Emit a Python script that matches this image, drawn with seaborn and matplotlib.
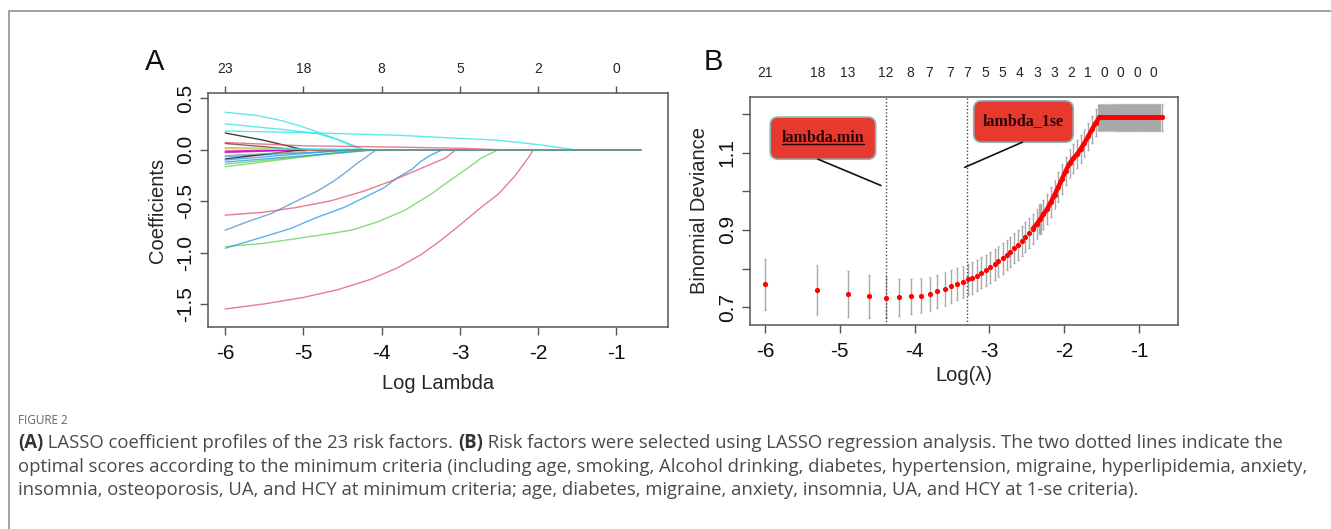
import numpy as np
import pandas as pd
import matplotlib
matplotlib.use("Agg")
import matplotlib.pyplot as plt
import seaborn as sns
from matplotlib.patches import FancyBboxPatch
from matplotlib.lines import Line2D

# ============================================================
# DATA - panel A: LASSO coefficient paths (log lambda -> coefficient)
# ============================================================
PINK, GREEN, BLUE, CYAN = "#DF536B", "#61D04F", "#2297E6", "#28E2E5"
BLACK, MAGENTA, YELLOW, GREY = "#000000", "#CD0BBC", "#F5C710", "#9E9E9E"

path_colors = [PINK, GREEN, BLUE, PINK, "#4a8fc9",
               CYAN, CYAN, CYAN, BLACK, PINK, "#6b2a2a",
               CYAN, MAGENTA, MAGENTA, MAGENTA, BLUE, GREEN,
               GREEN, BLACK, BLUE, GREY, YELLOW, BLUE]

path_loglam = [
    [-6.0, -5.51, -5.0, -4.57, -4.14, -3.80, -3.50, -3.24, -2.98, -2.73, -2.51, -2.30, -2.13, -2.06, -0.69],
    [-6.0, -5.51, -5.08, -4.65, -4.39, -4.05, -3.71, -3.37, -3.11, -2.90, -2.73, -2.51, -0.69],
    [-6.0, -5.51, -5.17, -4.82, -4.48, -4.22, -3.97, -3.80, -3.62, -3.50, -3.37, -3.22, -0.69],
    [-6.0, -5.51, -5.08, -4.65, -4.22, -3.88, -3.58, -3.37, -3.19, -3.05, -0.69],
    [-6.0, -5.72, -5.42, -5.12, -4.82, -4.61, -4.44, -4.31, -4.22, -4.07, -0.69],
    [-6.0, -5.59, -5.29, -5.04, -4.82, -4.48, -4.22, -0.69],
    [-6.0, -5.29, -4.82, -4.57, -4.27, -0.69],
    [-6.0, -5.0, -3.80, -2.51, -1.95, -1.53, -0.69],
    [-6.0, -5.51, -5.0, -0.69],
    [-6.0, -5.0, -3.80, -2.94, -2.51, -0.69],
    [-6.0, -5.51, -5.08, -0.69],
    [-6.0, -4.07, -0.69],
    [-6.0, -5.10, -0.69],
    [-6.0, -5.00, -0.69],
    [-6.0, -5.30, -4.95, -0.69],
    [-6.0, -4.22, -0.69],
    [-6.0, -5.0, -4.30, -0.69],
    [-6.0, -4.10, -0.69],
    [-6.0, -5.00, -0.69],
    [-6.0, -4.05, -0.69],
    [-6.0, -5.0, -4.90, -0.69],
    [-6.0, -5.00, -0.69],
    [-6.0, -4.40, -0.69],
]
path_coef = [
    [-1.545, -1.497, -1.433, -1.36, -1.258, -1.147, -1.02, -0.877, -0.718, -0.56, -0.432, -0.257, -0.083, 0.0, 0.0],
    [-0.940, -0.909, -0.861, -0.813, -0.781, -0.70, -0.59, -0.431, -0.289, -0.178, -0.083, 0.0, 0.0],
    [-0.956, -0.845, -0.766, -0.654, -0.56, -0.463, -0.369, -0.272, -0.194, -0.114, -0.051, 0.0, 0.0],
    [-0.635, -0.607, -0.559, -0.496, -0.400, -0.304, -0.209, -0.14, -0.083, 0.0, 0.0],
    [-0.781, -0.70, -0.622, -0.51, -0.400, -0.304, -0.209, -0.13, -0.083, 0.0, 0.0],
    [0.363, 0.331, 0.284, 0.229, 0.172, 0.076, 0.0, 0.0],
    [0.251, 0.198, 0.156, 0.10, 0.0, 0.0],
    [0.181, 0.166, 0.140, 0.092, 0.045, 0.0, 0.0],
    [0.162, 0.092, 0.0, 0.0],
    [0.07, 0.038, 0.025, 0.013, 0.0, 0.0],
    [0.06, 0.03, 0.0, 0.0],
    [0.02, 0.0, 0.0],
    [-0.013, 0.0, 0.0],
    [-0.028, 0.0, 0.0],
    [-0.02, -0.008, 0.0, 0.0],
    [-0.067, 0.0, 0.0],
    [-0.165, -0.07, 0.0, 0.0],
    [-0.14, 0.0, 0.0],
    [-0.09, 0.0, 0.0],
    [-0.12, 0.0, 0.0],
    [-0.057, -0.02, 0.0, 0.0],
    [0.01, 0.0, 0.0],
    [-0.10, 0.0, 0.0],
]

a_nz_pos = [-6, -5, -4, -3, -2, -1]
a_nz_labels = ["23", "18", "8", "5", "2", "0"]

# ============================================================
# DATA - panel B: cross-validated binomial deviance
# ============================================================
cv_loglam = [-6.00, -5.31, -4.89, -4.61, -4.38, -4.21, -4.05, -3.92, -3.80, -3.70,
             -3.60, -3.51, -3.43, -3.36, -3.29, -3.23, -3.17, -3.11, -3.05, -2.99,
             -2.93, -2.88, -2.82, -2.77, -2.72, -2.67, -2.62, -2.57, -2.52, -2.47,
             -2.42, -2.37, -2.32, -2.28, -2.23, -2.18, -2.13, -2.08, -2.03, -1.98,
             -1.93, -1.88, -1.83, -1.78, -1.73, -1.68, -1.63, -1.58, -1.53, -1.49,
             -1.45, -1.41, -1.37, -1.33, -1.29, -1.25, -1.21, -1.17, -1.13, -1.09,
             -1.05, -1.01, -0.97, -0.93, -0.89, -0.85, -0.81, -0.77, -0.73, -0.69]
cv_mean = [0.759, 0.744, 0.734, 0.728, 0.725, 0.726, 0.728, 0.730, 0.735, 0.741,
           0.747, 0.754, 0.760, 0.766, 0.772, 0.775, 0.782, 0.789, 0.796, 0.803,
           0.811, 0.819, 0.827, 0.835, 0.844, 0.853, 0.862, 0.871, 0.881, 0.892,
           0.903, 0.915, 0.928, 0.940, 0.954, 0.972, 0.991, 1.011, 1.032, 1.053,
           1.072, 1.085, 1.096, 1.110, 1.125, 1.142, 1.160, 1.177, 1.191, 1.191,
           1.191, 1.191, 1.191, 1.191, 1.191, 1.191, 1.191, 1.191, 1.191, 1.191,
           1.191, 1.191, 1.191, 1.191, 1.191, 1.191, 1.191, 1.191, 1.191, 1.191]
cv_se = [0.067, 0.064, 0.059, 0.056, 0.052, 0.048, 0.046, 0.045, 0.044, 0.043,
         0.043, 0.042, 0.042, 0.041, 0.041, 0.041, 0.041, 0.040, 0.040, 0.040,
         0.040, 0.040, 0.040, 0.039, 0.039, 0.039, 0.039, 0.039, 0.039, 0.039,
         0.039, 0.039, 0.039, 0.038, 0.038, 0.038, 0.038, 0.038, 0.038, 0.037,
         0.037, 0.037, 0.037, 0.036, 0.036, 0.036, 0.035, 0.035, 0.034, 0.034,
         0.034, 0.034, 0.034, 0.034, 0.034, 0.034, 0.034, 0.034, 0.034, 0.034,
         0.034, 0.034, 0.034, 0.034, 0.034, 0.034, 0.034, 0.034, 0.034, 0.034]

b_nz_pos = [-6.0, -5.30, -4.895, -4.383, -4.062, -3.804, -3.519, -3.296, -3.055, -2.823,
            -2.601, -2.360, -2.128, -1.905, -1.682, -1.468, -1.245, -1.022, -0.808]
b_nz_labels = ["21", "18", "13", "12", "8", "7", "7", "7", "5", "5",
               "4", "3", "3", "2", "1", "0", "0", "0", "0"]

lambda_min = -4.38
lambda_1se = -3.295

caption_lines = [
    [("(A)", True), (" LASSO coefficient profiles of the 23 risk factors. ", False),
     ("(B)", True), (" Risk factors were selected using LASSO regression analysis. "
                     "The two dotted lines indicate the", False)],
    [("optimal scores according to the minimum criteria (including age, smoking, Alcohol "
      "drinking, diabetes, hypertension, migraine, hyperlipidemia, anxiety,", False)],
    [("insomnia, osteoporosis, UA, and HCY at minimum criteria; age, diabetes, migraine, "
      "anxiety, insomnia, UA, and HCY at 1-se criteria).", False)],
]

# ============================================================
# FIGURE
# ============================================================
sns.set_theme(style="white")
plt.rcParams["font.family"] = ["Liberation Sans", "DejaVu Sans"]

W, H = 1331, 529
fig = plt.figure(figsize=(W / 100, H / 100), dpi=100)
fig.patch.set_facecolor("white")


def px_axes(left, top, right, bottom):
    return fig.add_axes([left / W, 1 - bottom / H, (right - left) / W, (bottom - top) / H])


def style_box(ax):
    for sp in ax.spines.values():
        sp.set_visible(True)
        sp.set_color("#555555")
        sp.set_linewidth(1.1)
    ax.tick_params(axis="both", direction="out", length=6, width=1.0, color="#555555",
                   labelsize=15, left=True, bottom=True, labelcolor="#111111")
    ax.tick_params(axis="x", pad=6)


# ---------------- Panel A ----------------
axA = px_axes(208, 93, 668, 327)
rows = []
for i, (xs, ys) in enumerate(zip(path_loglam, path_coef)):
    for x, y in zip(xs, ys):
        rows.append({"path": f"p{i}", "loglam": x, "coef": y})
dfA = pd.DataFrame(rows)
pal = {f"p{i}": c for i, c in enumerate(path_colors)}
sns.lineplot(data=dfA, x="loglam", y="coef", hue="path", palette=pal, estimator=None,
             sort=False, legend=False, linewidth=1.0, alpha=0.75, ax=axA)
axA.set_xlim(-6.22, -0.34)
axA.set_ylim(-1.72, 0.55)
axA.set_xticks([-6, -5, -4, -3, -2, -1])
axA.set_xticklabels(["-6", "-5", "-4", "-3", "-2", "-1"])
axA.set_yticks([-1.5, -1.0, -0.5, 0.0, 0.5])
axA.set_yticklabels(["-1.5", "-1.0", "-0.5", "0.0", "0.5"], rotation=90, va="center")
style_box(axA)
axA.set_xlabel("Log Lambda", fontsize=14.5, labelpad=8)
axA.set_ylabel("Coefficients", fontsize=14.5, labelpad=6)
secA = axA.secondary_xaxis("top")
secA.set_xticks(a_nz_pos)
secA.set_xticklabels(a_nz_labels)
secA.tick_params(direction="out", length=5, width=1.0, color="#555555", labelsize=10, pad=7)
secA.spines["top"].set_visible(False)

# ---------------- Panel B ----------------
axB = px_axes(750, 97, 1178, 325)
dfB = pd.DataFrame({"loglam": cv_loglam, "dev": cv_mean, "se": cv_se})
gap = np.abs(np.diff(dfB["loglam"].to_numpy(), append=0.0))
bar_lw = np.where(gap < 0.045, 2.4, 1.0)
axB.vlines(dfB["loglam"], dfB["dev"] - dfB["se"], dfB["dev"] + dfB["se"],
           color="#a9a9a9", linewidth=bar_lw, zorder=1)
cap = 0.012
axB.hlines(dfB["dev"] + dfB["se"], dfB["loglam"] - cap, dfB["loglam"] + cap,
           color="#a9a9a9", linewidth=1.0, zorder=1)
axB.hlines(dfB["dev"] - dfB["se"], dfB["loglam"] - cap, dfB["loglam"] + cap,
           color="#a9a9a9", linewidth=1.0, zorder=1)
# dots merge into a thick line where lambdas are dense
dense = dfB[dfB["loglam"] >= -2.45]
sns.lineplot(data=dense, x="loglam", y="dev", color="#ff0000", linewidth=3.2,
             estimator=None, sort=True, zorder=3, ax=axB)
sns.scatterplot(data=dfB, x="loglam", y="dev", color="#ff0000", s=14, linewidth=0,
                zorder=3, ax=axB)
axB.axvline(lambda_min, color="#444444", linestyle=(0, (1, 1.5)), linewidth=1.0, zorder=2)
axB.axvline(lambda_1se, color="#444444", linestyle=(0, (1, 1.5)), linewidth=1.0, zorder=2)
axB.set_xlim(-6.2, -0.48)
axB.set_ylim(0.654, 1.244)
axB.set_xticks([-6, -5, -4, -3, -2, -1])
axB.set_xticklabels(["-6", "-5", "-4", "-3", "-2", "-1"])
axB.set_yticks([0.7, 0.8, 0.9, 1.0, 1.1, 1.2])
axB.set_yticklabels(["0.7", "", "0.9", "", "1.1", ""], rotation=90, va="center")
style_box(axB)
axB.set_xlabel("Log(λ)", fontsize=14.5, labelpad=4)
axB.set_ylabel("Binomial Deviance", fontsize=14.5, labelpad=6)
secB = axB.secondary_xaxis("top")
secB.set_xticks(b_nz_pos)
secB.set_xticklabels(b_nz_labels)
secB.tick_params(length=0, labelsize=10, pad=12)
secB.spines["top"].set_visible(False)

# red label boxes with leader lines
x_per_px = (axB.get_xlim()[1] - axB.get_xlim()[0]) / 428
y_per_px = (axB.get_ylim()[1] - axB.get_ylim()[0]) / 228
boxes = [
    ("lambda.min", (-5.93, 1.083), (-4.52, 1.192), (-5.29, 1.083), (-4.45, 1.015), True),
    ("lambda_1se", (-3.21, 1.127), (-1.88, 1.234), (-2.56, 1.127), (-3.33, 1.062), False),
]
for label, (x0, y0), (x1, y1), p0, p1, underline in boxes:
    patch = FancyBboxPatch((x0, y0), x1 - x0, y1 - y0,
                           boxstyle=f"round,pad=0,rounding_size={8 * x_per_px}",
                           mutation_aspect=y_per_px / x_per_px,
                           facecolor="#e8392f", edgecolor="#8fb3b3", linewidth=1.2,
                           zorder=4, transform=axB.transData)
    axB.add_patch(patch)
    t = axB.text((x0 + x1) / 2, (y0 + y1) / 2, label, ha="center", va="center",
                 fontsize=11.5, fontweight="bold", family="Liberation Serif",
                 color="#2a0606", zorder=5)
    axB.plot([p0[0], p1[0]], [p0[1], p1[1]], color="#111111", linewidth=1.2, zorder=4)
    if underline:
        fig.canvas.draw()
        bb = t.get_window_extent()
        fig.add_artist(Line2D([bb.x0 / W, bb.x1 / W], [(bb.y0 + 2) / H, (bb.y0 + 2) / H],
                              color="#2a0606", linewidth=1.0))

# panel letters
fig.text(155 / W, 1 - 62 / H, "A", fontsize=21, ha="center", va="center", color="#111111")
fig.text(713 / W, 1 - 62 / H, "B", fontsize=21, ha="center", va="center", color="#111111")

# outer frame
fig.add_artist(Line2D([9 / W, 9 / W], [1 - 11 / H, 0], color="#9a9a9a", linewidth=1.3))
fig.add_artist(Line2D([9 / W, 1], [1 - 11 / H, 1 - 11 / H], color="#9a9a9a", linewidth=1.3))

# caption
fig.text(18 / W, 1 - 421 / H, "FIGURE 2", fontsize=8.5, color="#666666",
         family="Open Sans", va="center")
fig.canvas.draw()
renderer = fig.canvas.get_renderer()
probe = fig.text(0, 0, caption_lines[1][0][0], fontsize=11, family="Open Sans")
probe_w = probe.get_window_extent(renderer).width
probe.remove()
cap_size = 11 * (1311 - 18) / probe_w
line_y = [443, 467, 490]
for segs, yy in zip(caption_lines, line_y):
    x = 18
    for txt, bold in segs:
        t = fig.text(x / W, 1 - yy / H, txt, fontsize=cap_size, family="Open Sans",
                     fontweight="bold" if bold else "normal",
                     color="#333333" if bold else "#4a4a4a", va="center")
        x += t.get_window_extent(renderer).width

fig.savefig("out.png", dpi=100, facecolor="white")
print("saved out.png")
